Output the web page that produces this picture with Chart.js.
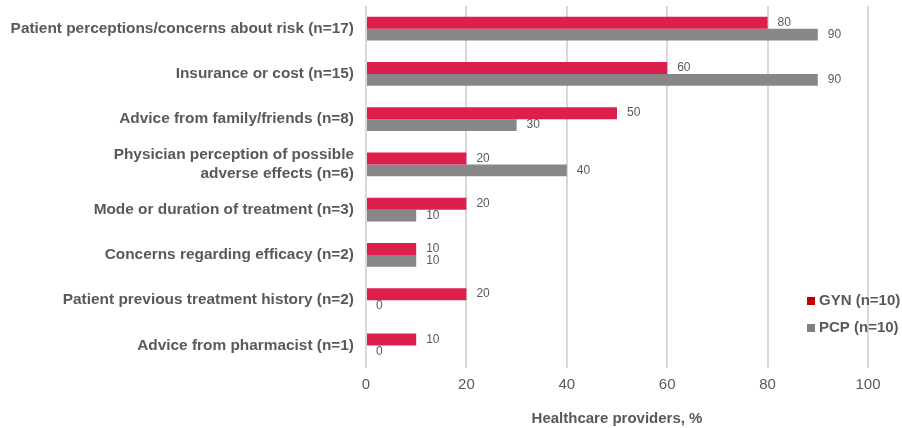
<!DOCTYPE html>
<html>
<head>
<meta charset="utf-8">
<script src="https://cdn.jsdelivr.net/npm/chart.js@4"></script>
<style>
  html, body { margin: 0; padding: 0; background: #fff; }
  #wrap { width: 902px; height: 428px; position: relative; }
</style>
</head>
<body>
<div id="wrap"><canvas id="reasonsChart"></canvas></div>
<script>
// reasons for not prescribing, by provider type
const categories = [
  'Patient perceptions/concerns about risk (n=17)',
  'Insurance or cost (n=15)',
  'Advice from family/friends (n=8)',
  ['Physician perception of possible', 'adverse effects (n=6)'],
  'Mode or duration of treatment (n=3)',
  'Concerns regarding efficacy (n=2)',
  'Patient previous treatment history (n=2)',
  'Advice from pharmacist (n=1)'
];
const gynValues = [80, 60, 50, 20, 20, 10, 20, 10];
const pcpValues = [90, 90, 30, 40, 10, 10, 0, 0];
const xTicks = [0, 20, 40, 60, 80, 100];

const textGrey = '#595959';
const fontFamily = '"Liberation Sans", Arial, sans-serif';

// value labels at the end of each bar
const barValueLabels = {
  id: 'barValueLabels',
  afterDatasetsDraw(chart) {
    const ctx = chart.ctx;
    ctx.save();
    ctx.font = '12px ' + fontFamily;
    ctx.fillStyle = textGrey;
    ctx.textAlign = 'left';
    ctx.textBaseline = 'middle';
    chart.data.datasets.forEach((ds, i) => {
      chart.getDatasetMeta(i).data.forEach((bar, j) => {
        ctx.fillText(String(ds.data[j]), bar.x + 10, bar.y);
      });
    });
    ctx.restore();
  }
};

// legend in the lower right corner of the plot
const cornerLegend = {
  id: 'cornerLegend',
  afterDraw(chart) {
    const ctx = chart.ctx;
    const items = [
      { text: 'GYN (n=10)', color: '#c00000' },
      { text: 'PCP (n=10)', color: '#808080' }
    ];
    ctx.save();
    ctx.font = 'bold 15px ' + fontFamily;
    ctx.textBaseline = 'middle';
    ctx.textAlign = 'left';
    items.forEach((it, k) => {
      const y = 301 + k * 27;
      ctx.fillStyle = it.color;
      ctx.fillRect(807, y - 4, 8, 8);
      ctx.fillStyle = textGrey;
      ctx.fillText(it.text, 819, y);
    });
    ctx.restore();
  }
};

new Chart(document.getElementById('reasonsChart'), {
  type: 'bar',
  data: {
    labels: categories,
    datasets: [
      {
        label: 'GYN (n=10)',
        data: gynValues,
        backgroundColor: '#dc1f4d',
        barPercentage: 1,
        categoryPercentage: 0.53
      },
      {
        label: 'PCP (n=10)',
        data: pcpValues,
        backgroundColor: '#878787',
        barPercentage: 1,
        categoryPercentage: 0.53
      }
    ]
  },
  options: {
    indexAxis: 'y',
    responsive: true,
    maintainAspectRatio: false,
    animation: false,
    layout: { padding: { top: 6, right: 34, bottom: 0, left: 0 } },
    plugins: {
      legend: { display: false },
      tooltip: { enabled: false }
    },
    scales: {
      x: {
        min: 0,
        max: 100,
        afterBuildTicks(scale) {
          scale.ticks = xTicks.map(v => ({ value: v }));
        },
        grid: { color: '#d9d9d9', lineWidth: 2, drawTicks: false },
        border: { display: false },
        ticks: {
          padding: 8,
          color: textGrey,
          font: { family: fontFamily, size: 15 }
        },
        title: {
          display: true,
          text: 'Healthcare providers, %',
          color: textGrey,
          padding: { top: 8, bottom: 0 },
          font: { family: fontFamily, size: 15, weight: 'bold' }
        }
      },
      y: {
        afterFit(scale) {
          scale.width = 366;
          scale.paddingTop = 0;
          scale.paddingBottom = 0;
        },
        grid: { display: false },
        border: { display: false },
        ticks: {
          padding: 4,
          color: textGrey,
          font: { family: fontFamily, size: 15.4, weight: 'bold' }
        }
      }
    }
  },
  plugins: [barValueLabels, cornerLegend]
});
</script>
</body>
</html>
